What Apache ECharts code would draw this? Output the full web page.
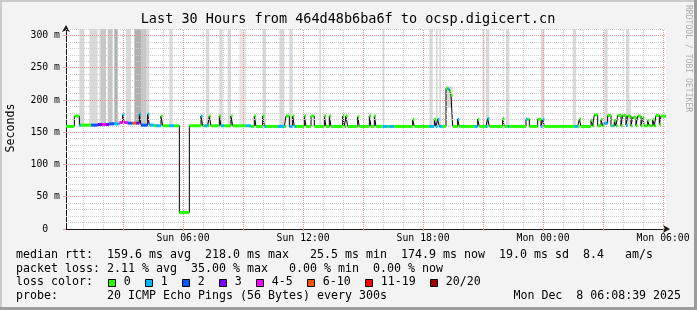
<!DOCTYPE html>
<html><head><meta charset="utf-8">
<script src="https://cdn.jsdelivr.net/npm/echarts@6/dist/echarts.min.js"></script>
<style>html,body{margin:0;padding:0;background:#f3f3f3;overflow:hidden}#c{width:697px;height:310px}</style>
</head><body><div id="c"></div>
<script>
// ---- time base: first step starts Sun 00:08:39, 5-minute steps, 30 hours ----
const START_HOUR = 8 / 60 + 39 / 3600;
const STEP_H = 5 / 60;
const N_STEPS = 360;

// ---- axis ticks ----
const xTickHours = [6, 12, 18, 24, 30];
const xTickLabels = ['Sun 06:00', 'Sun 12:00', 'Sun 18:00', 'Mon 00:00', 'Mon 06:00'];
const yTickValues = [0, 50, 100, 150, 200, 250, 300];
const yTickLabels = ['0  ', '50 m', '100 m', '150 m', '200 m', '250 m', '300 m'];

// ---- median rtt (ms): value holds from medStep[k] until the next change point ----
const medStep = [0,5,8,9,15,19,22,24,26,29,32,34,35,37,40,42,44,45,49,50,53,54,57,58,62,65,68,74,
  81,82,83,85,86,87,92,93,95,99,100,108,111,113,114,118,119,120,127,131,132,134,136,137,138,143,144,
  147,149,155,156,158,159,166,167,168,169,175,176,182,183,185,186,190,193,194,197,208,209,218,221,222,
  223,224,226,228,229,230,231,232,235,236,245,247,248,252,253,254,262,263,265,266,276,277,278,283,285,
  286,287,305,307,308,309,315,316,317,319,321,322,323,325,327,328,329,330,331,333,334,336,337,339,340,
  342,343,345,346,347,349,350,352,353,354,356,357,359];
const medMs = [159,175,161,161,161,162,162,162,163,163,165,177,165,164,164,164,178,161,178,161,160,160,175,160,160,160,25.5,160,
  175,160,160,160,175,160,175,160,160,175,160,160,159,175,159,175,159,159,159,159,175,159,175,159,159,175,159,
  175,159,175,159,175,159,175,159,175,159,174,159,175,159,175,159,159,159,159,159,170,159,159,170,159,
  170,159,159,218,217,214,207,159,170,159,159,170,159,159,171,159,171,159,159,159,170,170,159,170,159,
  170,159,159,159,170,159,168,160,177,160,170,160,164,176,160,160,168,160,176,160,176,161,175,160,173,
  160,175,160,172,160,168,160,170,160,176,162,175,174.9];
// loss class of each median segment (index into lossLabels)
const medLoss = [0,0,1,0,2,3,4,3,2,1,4,1,4,2,5,3,1,2,1,1,0,1,0,0,1,0,0,0,
  1,0,1,0,0,0,0,1,0,0,0,1,0,0,0,0,1,0,1,0,0,1,0,1,0,0,0,
  0,0,0,0,0,0,0,0,0,0,0,0,0,0,0,0,1,0,1,0,0,0,1,0,1,
  1,1,0,0,1,0,0,0,1,0,1,0,0,1,1,0,0,0,1,0,1,0,0,0,1,
  1,0,1,0,0,0,0,0,0,0,0,0,1,0,0,1,0,0,0,0,0,1,0,0,0,
  0,0,0,0,0,0,0,0,0,0,0,0,0,0];

// ---- smoke (spread of the 20 pings), step ranges ----
const smokeFrom  = [8,14,20,21,25,29,36,41,45,48,62,84,92,97,104,118,128,134,152,190,218,222,224,228,250,252,264,285,304,323,336,338];
const smokeTo    = [11,19,21,24,28,31,39,45,48,50,64,86,94,99,108,120,131,136,153,191,220,223,225,232,251,254,266,287,306,325,338,339];
const smokeLow   = [162,162,162,162,164,164,164,164,162,162,161,161,161,161,161,161,161,161,161,161,161,161,161,188,161,161,161,161,161,161,161,165];
const smokeHigh  = [310,310,310,310,310,310,310,310,310,310,310,310,310,310,310,310,310,310,310,310,310,310,310,221,310,310,310,310,310,310,310,200];
const smokeShade = [0,0,0,1,1,2,0,2,1,0,0,0,0,0,3,0,0,0,0,0,0,0,0,0,0,0,0,0,0,0,0,0];

// ---- legend ----
const lossLabels = ['0', '1', '2', '3', '4-5', '6-10', '11-19', '20/20'];
const lossColors = ['#26ff00', '#00b8ff', '#0059ff', '#7e00ff', '#ff00ff', '#ff5500', '#ff0000', '#a00000'];
const smokeColors = ['#d9d9d9', '#c6c6c6', '#b0b0b0', '#e6e6e6'];
const statLines = [
  'median rtt:  159.6 ms avg  218.0 ms max   25.5 ms min  174.9 ms now  19.0 ms sd  8.4   am/s',
  'packet loss: 2.11 % avg  35.00 % max   0.00 % min  0.00 % now',
  'loss color:',
  'probe:       20 ICMP Echo Pings (56 Bytes) every 300s'
];
const stampText = 'Mon Dec  8 06:08:39 2025';
const titleText = 'Last 30 Hours from 464d48b6ba6f to ocsp.digicert.cn';

const MONO = '"DejaVu Sans Mono", "Liberation Mono", monospace';
const MINOR = '#cdcdcd';
const MAJOR = '#f09494';
const stepHour = s => START_HOUR + s * STEP_H;

// build series data
const medLine = medStep.map((s, i) => [stepHour(s), medMs[i]]);
medLine.push([stepHour(N_STEPS), medMs[medMs.length - 1]]);
const lossSegs = medStep.map((s, i) => [stepHour(s), stepHour(i + 1 < medStep.length ? medStep[i + 1] : N_STEPS), medMs[i], medLoss[i]]);
const smokeData = smokeFrom.map((s, i) => [stepHour(s), stepHour(smokeTo[i]), smokeLow[i], smokeHigh[i], smokeShade[i]]);

const gridMinor = [], gridMajor = [];
for (let h = 1; h <= 30; h++) (h % 3 === 0 ? gridMajor : gridMinor).push({ xAxis: h, lineStyle: { color: h % 3 === 0 ? MAJOR : MINOR } });
for (let v = 10; v <= 310; v += 10) (v % 50 === 0 ? gridMajor : gridMinor).push({ yAxis: v, lineStyle: { color: v % 50 === 0 ? MAJOR : MINOR } });

// legend graphics
const graphics = [
  { type: 'rect', shape: { x: 0, y: 0, width: 697, height: 2 }, style: { fill: '#cbcbcb' }, silent: true },
  { type: 'rect', shape: { x: 0, y: 0, width: 2, height: 310 }, style: { fill: '#cbcbcb' }, silent: true },
  { type: 'rect', shape: { x: 0, y: 307, width: 697, height: 3 }, style: { fill: '#9c9c9c' }, silent: true },
  { type: 'rect', shape: { x: 694, y: 0, width: 3, height: 310 }, style: { fill: '#9c9c9c' }, silent: true },
  { type: 'text', x: 348, y: 19, style: { text: titleText, font: '13.5px ' + MONO, fill: '#000', textAlign: 'center', textVerticalAlign: 'middle' } },
  { type: 'text', x: 688, y: 5, rotation: -Math.PI / 2, style: { text: 'RRDTOOL / TOBI OETIKER', font: '8.1px ' + MONO, fill: '#acacac', textAlign: 'left', textVerticalAlign: 'middle' } },
  { type: 'text', x: 11, y: 128, rotation: Math.PI / 2, style: { text: 'Seconds', font: '11.6px ' + MONO, fill: '#000', textAlign: 'center', textVerticalAlign: 'middle' } },
  { type: 'text', x: 681, y: 295.5, style: { text: stampText, font: '11.6px ' + MONO, fill: '#000', textAlign: 'right', textVerticalAlign: 'middle' } }
];
const lineY = [255, 268.5, 282, 295.5];
statLines.forEach((t, i) => graphics.push({ type: 'text', x: 16, y: lineY[i], style: { text: t, font: '11.63px ' + MONO, fill: '#000', textAlign: 'left', textVerticalAlign: 'middle' } }));
let bx = 108.3;
lossLabels.forEach((lab, i) => {
  graphics.push({ type: 'rect', shape: { x: Math.round(bx) + 0.5, y: 279.5, width: 7, height: 7 }, style: { fill: lossColors[i], stroke: '#000', lineWidth: 1 } });
  graphics.push({ type: 'text', x: bx + 15.5, y: 282.3, style: { text: lab, font: '11.63px ' + MONO, fill: '#000', textAlign: 'left', textVerticalAlign: 'middle' } });
  bx = bx + 15.5 + lab.length * 7 + 14.5;
});

const chart = echarts.init(document.getElementById('c'), null, { width: 697, height: 310, renderer: 'canvas' });
chart.setOption({
  animation: false,
  backgroundColor: '#f3f3f3',
  grid: { left: 66, top: 29, width: 600, height: 200, show: true, backgroundColor: '#ffffff', borderWidth: 0 },
  xAxis: {
    type: 'value', min: START_HOUR, max: START_HOUR + 30,
    splitLine: { show: false },
    axisLine: { show: true, lineStyle: { color: '#1a1a1a', width: 1 }, symbol: ['none', 'arrow'], symbolSize: [6, 7], symbolOffset: [0, 4] },
    axisTick: { show: true, customValues: [3, 6, 9, 12, 15, 18, 21, 24, 27, 30], length: 2, lineStyle: { color: MAJOR } },
    axisLabel: {
      customValues: xTickHours, margin: 4, fontFamily: MONO, fontSize: 9.8, color: '#000',
      formatter: v => { const k = xTickHours.findIndex(h => Math.abs(h - v) < 1e-6); return k >= 0 ? xTickLabels[k] : ''; }
    }
  },
  yAxis: {
    type: 'value', min: 0, max: 310, interval: 10,
    splitLine: { show: false },
    axisLine: { show: true, lineStyle: { color: '#1a1a1a', width: 1 }, symbol: ['none', 'arrow'], symbolSize: [6, 7], symbolOffset: [0, 4] },
    axisTick: { show: true, customValues: yTickValues, length: 3, lineStyle: { color: MAJOR } },
    axisLabel: {
      customValues: yTickValues, margin: 6, fontFamily: MONO, fontSize: 9.8, color: '#000',
      formatter: v => { const k = yTickValues.indexOf(Math.round(v)); return (k >= 0 && Math.abs(v - yTickValues[k]) < 1e-6) ? yTickLabels[k] : ''; }
    }
  },
  series: [
    {
      type: 'line', z: 1, silent: true, data: [[START_HOUR, null]], symbol: 'none',
      markLine: { silent: true, symbol: ['none', 'none'], label: { show: false }, animation: false,
        lineStyle: { type: [1, 1], width: 1 }, data: gridMinor.concat(gridMajor) }
    },
    {
      type: 'custom', z: 2, silent: true, data: smokeData, encode: { x: [0, 1], y: [2, 3] },
      renderItem: (params, api) => {
        const a = api.coord([api.value(0), api.value(3)]);
        const b = api.coord([api.value(1), api.value(2)]);
        return { type: 'rect', shape: { x: a[0], y: a[1], width: b[0] - a[0], height: b[1] - a[1] }, style: { fill: smokeColors[api.value(4)] } };
      }
    },
    {
      type: 'line', z: 3, silent: true, data: medLine, step: 'end', symbol: 'none',
      lineStyle: { color: '#000', width: 1 }
    },
    {
      type: 'custom', z: 10, silent: true, data: lossSegs, encode: { x: [0, 1], y: 2 },
      renderItem: (params, api) => {
        const v = api.value(2);
        const p0 = api.coord([api.value(0), v]);
        const p1 = api.coord([api.value(1), v]);
        return { type: 'rect', z2: 10, shape: { x: p0[0], y: p0[1] - 1.5, width: p1[0] - p0[0], height: 3 }, style: { fill: lossColors[api.value(3)] } };
      }
    }
  ],
  graphic: graphics
});
</script>
</body></html>
